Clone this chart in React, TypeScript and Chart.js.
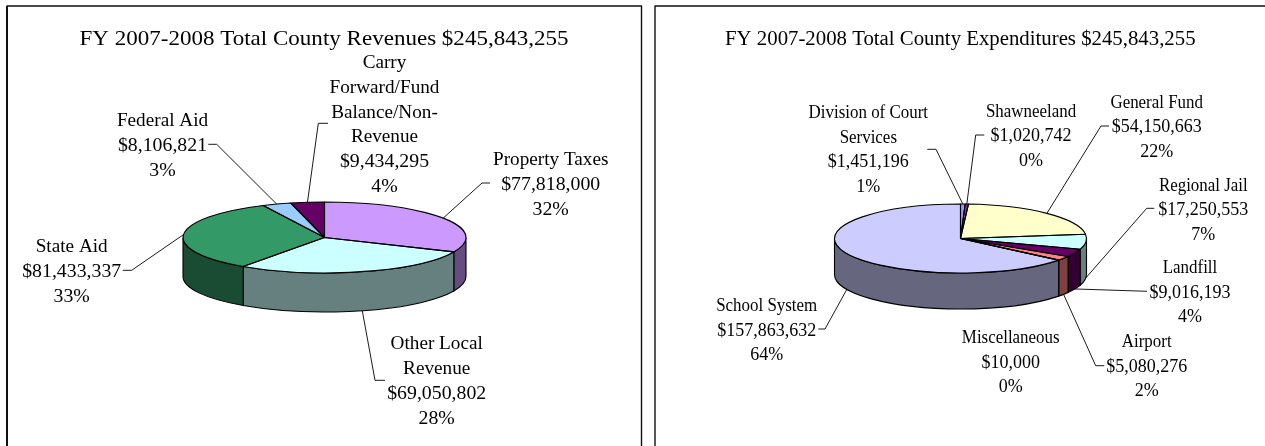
import React, { useEffect, useRef } from "react";
import { Chart, registerables } from "chart.js";

Chart.register(...registerables);

const revenueTitle = "FY 2007-2008 Total County Revenues $245,843,255";
const revenueNames = [
  ["Property Taxes"],
  ["Other Local", "Revenue"],
  ["State Aid"],
  ["Federal Aid"],
  ["Carry", "Forward/Fund", "Balance/Non-", "Revenue"],
];
const revenueValues = [77818000, 69050802, 81433337, 8106821, 9434295];
const revenuePercents = ["32%", "28%", "33%", "3%", "4%"];
const revenueColors = ["#CC99FF", "#CCFFFF", "#339966", "#99CCFF", "#660066"];

const expenseTitle = "FY 2007-2008 Total County Expenditures $245,843,255";
const expenseNames = [
  ["Division of Court", "Services"],
  ["Shawneeland"],
  ["General Fund"],
  ["Regional Jail"],
  ["Landfill"],
  ["Airport"],
  ["Miscellaneous"],
  ["School System"],
];
const expenseValues = [1451196, 1020742, 54150663, 17250553, 9016193, 5080276, 10000, 157863632];
const expensePercents = ["1%", "0%", "22%", "7%", "4%", "2%", "0%", "64%"];
const expenseColors = ["#9999FF", "#993366", "#FFFFCC", "#CCFFFF", "#660066", "#FF8080", "#0066CC", "#CCCCFF"];

// Layout, in page pixels.
const revenueLabelSpots = [
  [550.7, 165], [436.7, 349], [71.7, 252.3], [162.5, 126], [384.5, 67.7],
];
const revenueElbows = [
  [[482, 183], [490, 183]],
  [[375, 380.3], [385, 380.3]],
  [[131.7, 270.3], [122.7, 270.3]],
  [[216.7, 144.3], [208.3, 144.3]],
  [[318.3, 123.3], [328, 123.3]],
];
const expenseLabelSpots = [
  [868.3, 118.3], [1031, 116.7], [1156.7, 107.7], [1203.3, 190.7],
  [1190, 273], [1146.7, 347.3], [1010.7, 343], [766.7, 311.3],
];
const expenseElbows = [
  [[936, 149.3], [927.3, 149.3]],
  [[975.7, 135], [984.3, 135]],
  [[1101, 126], [1109, 126]],
  [[1146.7, 208.3], [1154.3, 208.3]],
  [[1147, 291.3]],
  [[1095.7, 365.7], [1104.3, 365.7]],
  null,
  [[825, 329], [818.3, 329]],
];

const PAGE_H = 446;
const SERIF = '"Liberation Serif", "Times New Roman", serif';

const panels = [
  {
    title: revenueTitle, names: revenueNames, values: revenueValues, percents: revenuePercents,
    colors: revenueColors, spots: revenueLabelSpots, elbows: revenueElbows,
    canvasX: 0, canvasW: 648, cx: 324.5, cy: 237.5, rx: 141.5, ry: 35.5, depth: 39,
    titleX: 324, titleY: 45, titleSize: 20.95, labelSize: 18, stretch: 1.1, nameFit: 0.97, lineH: 24.9,
    frameX: 7, frameW: 634.5, frameLeftW: 2,
  },
  {
    title: expenseTitle, names: expenseNames, values: expenseValues, percents: expensePercents,
    colors: expenseColors, spots: expenseLabelSpots, elbows: expenseElbows,
    canvasX: 648, canvasW: 617, cx: 960.5, cy: 238.5, rx: 126, ry: 34.5, depth: 36,
    titleX: 960.3, titleY: 45, titleSize: 20.8, labelSize: 18, stretch: 1, nameFit: 0.94, lineH: 24.5,
    frameX: 655, frameW: 700, frameLeftW: 1.5,
  },
];

const money = (v: number) => "$" + v.toLocaleString("en-US");

const halve = (hex: string) => {
  const n = parseInt(hex.slice(1), 16);
  const r = (n >> 16) >> 1, g = ((n >> 8) & 255) >> 1, b = (n & 255) >> 1;
  return `rgb(${r},${g},${b})`;
};

function makePlugin(p: any) {
  const text = (ctx: any, s: string, x: number, y: number, size: number, fit = 1) => {
    ctx.save();
    ctx.translate(x, y);
    ctx.scale(p.stretch * fit, 1);
    ctx.font = `${size}px ${SERIF}`;
    ctx.fillStyle = "#000";
    ctx.textAlign = "center";
    ctx.textBaseline = "alphabetic";
    ctx.fillText(s, 0, 0);
    ctx.restore();
  };

  return {
    id: "pie3d",
    beforeDatasetsDraw(chart: any) {
      const ctx = chart.ctx;
      const arcs = chart.getDatasetMeta(0).data;
      // side walls: only the part of each slice facing the viewer
      ctx.save();
      ctx.translate(-p.canvasX, 0);
      arcs.forEach((arc: any, i: number) => {
        const a0 = Math.max(arc.startAngle, 0);
        const a1 = Math.min(arc.endAngle, Math.PI);
        if (a1 <= a0) return;
        ctx.beginPath();
        ctx.ellipse(p.cx, p.cy, p.rx, p.ry, 0, a0, a1);
        ctx.ellipse(p.cx, p.cy + p.depth, p.rx, p.ry, 0, a1, a0, true);
        ctx.closePath();
        ctx.fillStyle = halve(p.colors[i]);
        ctx.fill();
        ctx.lineWidth = 1.1;
        ctx.strokeStyle = "#000";
        ctx.stroke();
      });
      ctx.restore();
      // squash the library's round pie into the tilted top face
      const cyLocal = arcs[0].y;
      ctx.save();
      ctx.translate(0, p.cy);
      ctx.scale(1, p.ry / p.rx);
      ctx.translate(0, -cyLocal);
    },
    afterDatasetsDraw(chart: any) {
      const ctx = chart.ctx;
      ctx.restore();
      const arcs = chart.getDatasetMeta(0).data;
      ctx.save();
      ctx.translate(-p.canvasX, 0);

      // slice outlines
      ctx.strokeStyle = "#000";
      ctx.lineWidth = 1.1;
      ctx.lineJoin = "round";
      arcs.forEach((arc: any) => {
        ctx.beginPath();
        ctx.moveTo(p.cx, p.cy);
        ctx.ellipse(p.cx, p.cy, p.rx, p.ry, 0, arc.startAngle, arc.endAngle);
        ctx.closePath();
        ctx.stroke();
      });

      // leader lines, starting at each slice's outer middle
      ctx.lineWidth = 0.9;
      arcs.forEach((arc: any, i: number) => {
        const elbow = p.elbows[i];
        if (!elbow) return;
        const mid = (arc.startAngle + arc.endAngle) / 2;
        const sin = Math.sin(mid);
        const ax = p.cx + p.rx * Math.cos(mid);
        const ay = p.cy + p.ry * sin + (sin > 0 ? p.depth : 0);
        ctx.beginPath();
        ctx.moveTo(ax, ay);
        elbow.forEach((pt: number[]) => ctx.lineTo(pt[0], pt[1]));
        ctx.stroke();
      });

      // frame
      ctx.strokeStyle = "#111";
      ctx.lineWidth = 1.4;
      ctx.beginPath();
      ctx.moveTo(p.frameX, PAGE_H + 2);
      ctx.lineTo(p.frameX, 6);
      ctx.lineTo(p.frameX + p.frameW, 6);
      ctx.lineTo(p.frameX + p.frameW, PAGE_H + 2);
      ctx.stroke();
      if (p.frameLeftW > 1.5) {
        ctx.lineWidth = p.frameLeftW;
        ctx.beginPath();
        ctx.moveTo(p.frameX, 6);
        ctx.lineTo(p.frameX, PAGE_H + 2);
        ctx.stroke();
      }

      // texts
      text(ctx, p.title, p.titleX, p.titleY, p.titleSize);
      p.names.forEach((name: string[], i: number) => {
        const y0 = p.spots[i][1];
        const x = p.spots[i][0];
        name.forEach((s, k) => text(ctx, s, x, y0 + k * p.lineH, p.labelSize, p.nameFit));
        text(ctx, money(p.values[i]), x, y0 + name.length * p.lineH, p.labelSize);
        text(ctx, p.percents[i], x, y0 + (name.length + 1) * p.lineH, p.labelSize);
      });
      ctx.restore();
    },
  };
}

function PiePanel({ panel }: { panel: any }) {
  const ref = useRef<HTMLCanvasElement>(null);
  useEffect(() => {
    const localCx = panel.cx - panel.canvasX;
    const chart = new Chart(ref.current as HTMLCanvasElement, {
      type: "pie",
      data: {
        labels: panel.names.map((n: string[]) => n.join(" ")),
        datasets: [{ data: panel.values, backgroundColor: panel.colors, borderWidth: 0 }],
      },
      options: {
        responsive: false,
        animation: false,
        events: [],
        layout: {
          padding: {
            left: localCx - panel.rx,
            right: panel.canvasW - localCx - panel.rx,
            top: panel.cy - panel.rx,
            bottom: PAGE_H - panel.cy - panel.rx,
          },
        },
        plugins: { legend: { display: false }, tooltip: { enabled: false }, title: { display: false } },
      },
      plugins: [makePlugin(panel)],
    } as any);
    return () => chart.destroy();
  }, [panel]);
  return (
    <canvas
      ref={ref}
      width={panel.canvasW}
      height={PAGE_H}
      style={{ position: "absolute", left: panel.canvasX, top: 0, width: panel.canvasW, height: PAGE_H, display: "block" }}
    />
  );
}

export default function App() {
  return (
    <div style={{ position: "absolute", left: 0, top: 0, width: 1265, height: PAGE_H, overflow: "hidden", background: "#fff" }}>
      {panels.map((p, i) => (
        <PiePanel key={i} panel={p} />
      ))}
    </div>
  );
}
